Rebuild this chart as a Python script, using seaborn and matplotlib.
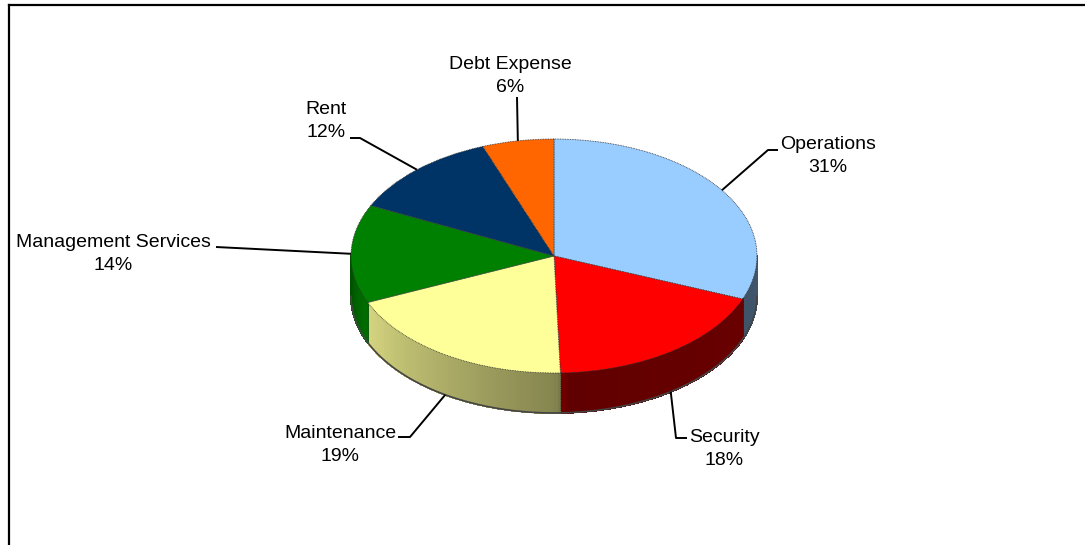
import numpy as np
import matplotlib
matplotlib.use("Agg")
import matplotlib.pyplot as plt
from matplotlib.collections import PolyCollection
import seaborn as sns

# values (labels show them rounded)
categories = ["Operations", "Security", "Maintenance", "Management Services", "Rent", "Debt Expense"]
shares = [31.0, 18.5, 19.0, 13.6, 12.2, 5.7]
colors = ["#99CCFF", "#FF0000", "#FFFF99", "#008000", "#003366", "#FF6600"]

W, H = 1085, 545
CX, CY, RX, RY = 554, 256, 203, 117   # ellipse of the top face, pixels
DEPTH = 40 / RY                        # pie thickness in unit-circle terms

# label centre, then leader elbow and leader end, all in pixels
label_pos = [(828, 156), (724, 449), (340, 445), (113, 254), (326, 121), (510, 76)]
leader_via = [(768, 150), (676, 438), (410, 437), (216, 247), (360, 138), (517, 97)]
leader_end = [(778, 150), (687, 438), (398, 437), None, (350, 138), None]

sns.set_theme(style="white")
plt.rcParams["font.family"] = ["Liberation Sans", "DejaVu Sans"]

fig = plt.figure(figsize=(W / 100, H / 100), dpi=100)

# only the top and left of the chart border are in the picture
frame = fig.add_axes([8.5 / W, 0, 1 - 8.5 / W, (H - 5) / H])
frame.set_xticks([])
frame.set_yticks([])
sns.despine(ax=frame, top=False, right=True, bottom=True)
for side in ["top", "left"]:
    frame.spines[side].set_color("black")
    frame.spines[side].set_linewidth(1.6)

ax = fig.add_axes([0, 0, 1, 1])
ax.patch.set_alpha(0)


def px(x, y):
    return (x - CX) / RX, (CY - y) / RY


# clockwise angle from 12 o'clock -> brightness of the side wall
def shade(angle):
    return np.interp(angle, [90, 176, 180, 250, 270], [0.42, 0.38, 0.52, 0.85, 0.62])


shares_arr = np.array(shares)
edges = np.concatenate([[0], np.cumsum(shares_arr)]) / shares_arr.sum() * 360
polys, poly_colors = [], []
for i in range(len(shares)):
    lo, hi = max(edges[i], 90), min(edges[i + 1], 270)
    if hi <= lo:
        continue
    steps = np.linspace(lo, hi, int(hi - lo) + 2)
    for a, b in zip(steps[:-1], steps[1:]):
        ta, tb = np.radians([a, b])
        x0, y0, x1, y1 = np.sin(ta), np.cos(ta), np.sin(tb), np.cos(tb)
        polys.append([(x0, y0), (x1, y1), (x1, y1 - DEPTH), (x0, y0 - DEPTH)])
        rgb = np.array(matplotlib.colors.to_rgb(colors[i]))
        poly_colors.append(rgb * shade((a + b) / 2))
ax.add_collection(PolyCollection(polys, facecolors=poly_colors, edgecolors=poly_colors,
                                 linewidths=0.8, antialiaseds=False, zorder=1))

# dark lower rim and seams between the side walls
t = np.radians(np.linspace(90, 270, 200))
ax.plot(np.sin(t), np.cos(t) - DEPTH, color="#444444", lw=1.2, zorder=2)
for e in edges[:-1]:
    if 90 < e < 270:
        r = np.radians(e)
        ax.plot([np.sin(r)] * 2, [np.cos(r), np.cos(r) - DEPTH], color="#333333", lw=0.5, ls=":", zorder=2)

wedges, _ = ax.pie(
    shares, colors=colors, startangle=90, counterclock=False, radius=1,
    wedgeprops={"edgecolor": "#333333", "linewidth": 0.6, "linestyle": (0, (1, 1)), "zorder": 3},
)
ax.set_aspect("auto")
ax.set_xlim(-CX / RX, (W - CX) / RX)
ax.set_ylim((CY - H) / RY, CY / RY)

# leaders start on the rim at each slice's middle, labels carry the rounded share
for i, name in enumerate(categories):
    mid = np.radians((edges[i] + edges[i + 1]) / 2)
    sx, sy = np.sin(mid), np.cos(mid)
    if 90 < np.degrees(mid) < 270:
        sy -= DEPTH
    pts = [(sx, sy), px(*leader_via[i])]
    if leader_end[i] is not None:
        pts.append(px(*leader_end[i]))
    xs, ys = zip(*pts)
    ax.plot(xs, ys, color="black", lw=1.4, zorder=4, solid_capstyle="butt")
    lx, ly = px(*label_pos[i])
    ax.text(lx, ly, f"{name}\n{shares[i]:.0f}%", ha="center", va="center",
            fontsize=14, color="black", linespacing=1.4, zorder=5)

fig.savefig("out.png", dpi=100, facecolor="white")
